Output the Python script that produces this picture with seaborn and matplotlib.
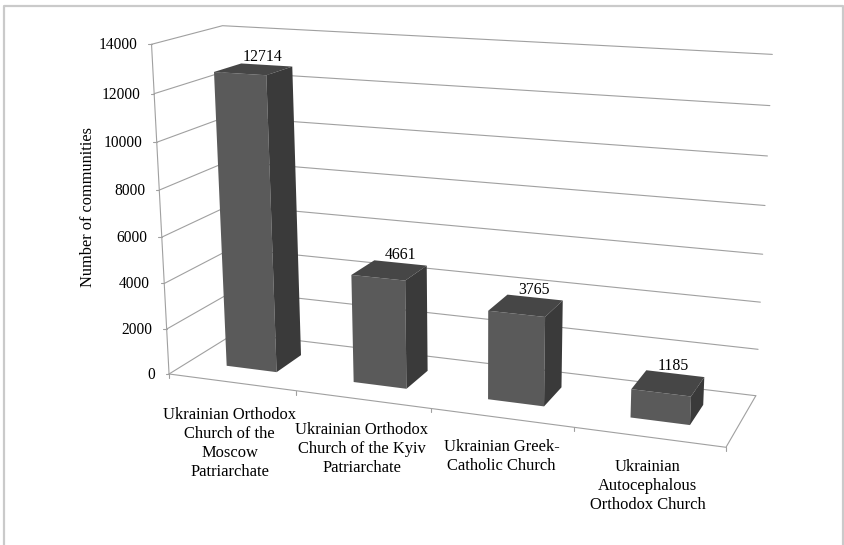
"""
Communities per church, drawn as a 3D looking bar chart on a fitted perspective
"""

import matplotlib
matplotlib.use('Agg')
import matplotlib.pyplot as plt
from matplotlib.patches import Polygon, Rectangle
from matplotlib.transforms import Affine2D, Transform
import numpy as np
import pandas as pd
import seaborn as sns

categories = [
    'Ukrainian Orthodox\nChurch of the\nMoscow\nPatriarchate',
    'Ukrainian Orthodox\nChurch of the Kyiv\nPatriarchate',
    'Ukrainian Greek-\nCatholic Church',
    'Ukrainian\nAutocephalous\nOrthodox Church',
]
communities = [12714, 4661, 3765, 1185]
y_ticks = [0, 2000, 4000, 6000, 8000, 10000, 12000, 14000]

WIDTH, HEIGHT = 844, 545
FRONT_COLOR = '#5a5a5a'
TOP_COLOR = '#464646'
SIDE_COLOR = '#3a3a3a'
GRID_COLOR = '#a0a0a0'
BORDER_COLOR = '#cacaca'
X0, X1 = -0.5, 3.5
BAR_D0, BAR_D1 = 0.3, 0.7

# box corners seen in the picture: (category x, value, depth) -> pixel
calib_world = [
    (X0, 0, 0), (X1, 0, 0), (X1, 0, 1), (X0, 0, 1),
    (X0, 14000, 0), (X0, 14000, 1), (X1, 14000, 1), (X1, 12000, 1),
]
calib_pixel = [
    (168.3, 374.0), (726.0, 447.3), (755.7, 395.7), (236.0, 333.0),
    (152.3, 44.3), (221.7, 25.7), (772.3, 54.3), (770.0, 105.7),
]


def fit_camera(world, pixel):
    """Solve the 3x4 projection matrix by least squares."""
    rows, rhs = [], []
    for (x, v, d), (u, w) in zip(world, pixel):
        v = v / 14000
        rows.append([x, v, d, 1, 0, 0, 0, 0, -u * x, -u * v, -u * d])
        rows.append([0, 0, 0, 0, x, v, d, 1, -w * x, -w * v, -w * d])
        rhs += [u, w]
    sol = np.linalg.lstsq(np.array(rows, float), np.array(rhs, float), rcond=None)[0]
    return np.append(sol, 1).reshape(3, 4)


CAMERA = fit_camera(calib_world, calib_pixel)


def project(x, v, d):
    """Map category x, value and depth to picture pixels."""
    hom = CAMERA @ np.array([x, v / 14000, d, 1.0])
    return hom[0] / hom[2], hom[1] / hom[2]


class DepthTransform(Transform):
    """Data coordinates of a plain bar plot, pushed to a fixed depth."""
    input_dims = 2
    output_dims = 2

    def __init__(self, bar_depth):
        super().__init__()
        self.bar_depth = bar_depth

    def transform_non_affine(self, values):
        return np.array([project(x, v, self.bar_depth) for x, v in values])


sns.set_theme(style='white')
plt.rcParams['font.family'] = ['Liberation Serif', 'DejaVu Serif']

fig = plt.figure(figsize=(WIDTH / 100, HEIGHT / 100), dpi=100)
ax = fig.add_axes([0, 0, 1, 1])
pix = Affine2D().scale(1, -1).translate(0, HEIGHT)

df = pd.DataFrame({'church': categories, 'communities': communities})
sns.barplot(data=df, x='church', y='communities', color=FRONT_COLOR, saturation=1,
            width=0.4, ax=ax)
ax.set_xlim(X0, X1)
ax.set_ylim(0, 14000)
ax.axis('off')


def line(points, lw=0.8, color=GRID_COLOR):
    xs, ys = zip(*points)
    ax.plot(xs, ys, color=color, lw=lw, transform=pix, zorder=0.5, clip_on=False)


# walls, floor and ticks
for v in y_ticks:
    left = project(X0, v, 0)
    line([left, project(X0, v, 1), project(X1, v, 1)])
    line([(left[0] - 3.5, left[1]), left])
    ax.text(left[0] - 14, left[1] + 1, f'{v}', transform=pix, ha='right', va='center',
            fontsize=11.2, color='black')
line([project(X0, 0, 0), project(X0, 14000, 0)])
line([project(X0, 0, 0), project(X1, 0, 0), project(X1, 0, 1)])
for i in range(len(categories) + 1):
    px, py = project(X0 + i, 0, 0)
    line([(px, py), (px, py + 4)])

# bars: the seaborn rectangles become the front faces
value_nudge = [-4, 0, -1, -2]
bars = [p for p in ax.patches if isinstance(p, Rectangle)]
for bar, nudge in zip(bars, value_nudge):
    x0, x1 = bar.get_x(), bar.get_x() + bar.get_width()
    h = bar.get_height()
    bar.set_transform(DepthTransform(BAR_D0) + pix)
    bar.set_zorder(3)
    bar.set_linewidth(0)
    top = [project(x0, h, BAR_D0), project(x1, h, BAR_D0),
           project(x1, h, BAR_D1), project(x0, h, BAR_D1)]
    side = [project(x1, 0, BAR_D0), project(x1, h, BAR_D0),
            project(x1, h, BAR_D1), project(x1, 0, BAR_D1)]
    ax.add_patch(Polygon(top, closed=True, fc=TOP_COLOR, ec='none', transform=pix, zorder=3))
    ax.add_patch(Polygon(side, closed=True, fc=SIDE_COLOR, ec='none', transform=pix, zorder=3))
    lx, ly = project((x0 + x1) / 2, h, BAR_D1)
    ax.text(lx + nudge, ly - 8, f'{h:.0f}', transform=pix, ha='center', va='center',
            fontsize=11.4, color='black', zorder=4)

# category labels hang under the front edge
label_drop = [25, 23, 21, 22]
label_shift = [-2, -1, 0, -1]
for i, (name, drop, shift) in enumerate(zip(categories, label_drop, label_shift)):
    px, py = project(i, 0, 0)
    ax.text(px + shift, py + drop, name, transform=pix, ha='center', va='top', fontsize=11.9,
            color='black', linespacing=1.24)

ax.text(88.5, 207, 'Number of communities', transform=pix, rotation=90, ha='center',
        va='center', fontsize=11.8, color='black')

# chart border, open at the bottom of the picture
line([(4, HEIGHT), (4, 6), (843, 6), (843, HEIGHT)], lw=1.6, color=BORDER_COLOR)

fig.savefig('out.png', dpi=100)
plt.close()
